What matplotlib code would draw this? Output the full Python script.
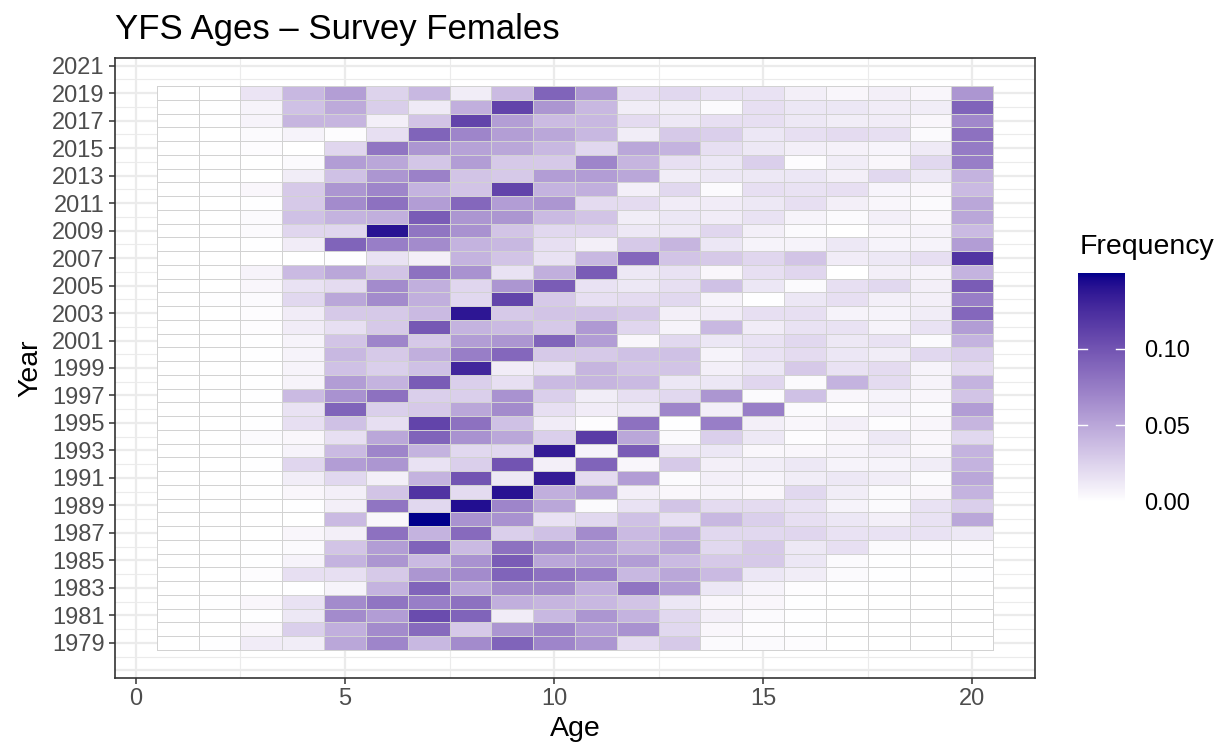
import numpy as np
import matplotlib
matplotlib.use("Agg")
import matplotlib.pyplot as plt
from matplotlib.colors import ListedColormap, Normalize
from matplotlib.ticker import FixedLocator

plt.rcParams["font.family"] = ["Liberation Sans", "DejaVu Sans"]

# Age classes and survey years
ages = list(range(1, 21))
years = list(range(1979, 2020))

# Proportion at age by year (rows ordered 1979 -> 2019, columns ages 1..20)
freq = [
    [0, 0.001, 0.011, 0.010, 0.050, 0.070, 0.040, 0.066, 0.090, 0.070, 0.060, 0.020, 0.030, 0.003, 0.003, 0.002, 0, 0, 0, 0],          # 1979
    [0, 0, 0.005, 0.027, 0.045, 0.066, 0.086, 0.030, 0.060, 0.070, 0.056, 0.062, 0.022, 0.005, 0.002, 0.001, 0, 0, 0, 0],              # 1980
    [0, 0, 0.001, 0.013, 0.066, 0.056, 0.105, 0.090, 0.011, 0.040, 0.060, 0.043, 0.022, 0.009, 0.003, 0.001, 0, 0, 0, 0],              # 1981
    [0, 0.001, 0.005, 0.016, 0.066, 0.080, 0.074, 0.082, 0.045, 0.042, 0.040, 0.033, 0.014, 0.005, 0.005, 0.001, 0, 0, 0, 0],          # 1982
    [0, 0, 0, 0.001, 0.007, 0.043, 0.090, 0.050, 0.066, 0.066, 0.045, 0.080, 0.056, 0.014, 0.007, 0.002, 0.001, 0.001, 0, 0],          # 1983
    [0, 0, 0.002, 0.018, 0.018, 0.030, 0.060, 0.066, 0.090, 0.082, 0.074, 0.040, 0.050, 0.039, 0.014, 0.010, 0.003, 0.001, 0, 0.001],  # 1984
    [0, 0, 0.001, 0.007, 0.043, 0.060, 0.039, 0.062, 0.095, 0.050, 0.056, 0.056, 0.039, 0.030, 0.030, 0.014, 0.003, 0.001, 0, 0.001],  # 1985
    [0, 0, 0.001, 0.003, 0.033, 0.056, 0.090, 0.039, 0.082, 0.066, 0.056, 0.042, 0.050, 0.022, 0.030, 0.013, 0.018, 0.003, 0.002, 0.002],  # 1986
    [0, 0, 0, 0.005, 0.009, 0.082, 0.043, 0.086, 0.027, 0.035, 0.066, 0.039, 0.045, 0.022, 0.022, 0.023, 0.016, 0.016, 0.016, 0.013],  # 1987
    [0, 0, 0, 0, 0.039, 0.005, 0.1495, 0.062, 0.062, 0.016, 0.022, 0.035, 0.018, 0.040, 0.027, 0.018, 0.014, 0.009, 0.016, 0.050],     # 1988
    [0, 0, 0, 0.001, 0.009, 0.080, 0.022, 0.142, 0.070, 0.050, 0.003, 0.016, 0.033, 0.020, 0.020, 0.016, 0.007, 0.003, 0.016, 0.027],  # 1989
    [0, 0, 0.001, 0.005, 0.009, 0.033, 0.120, 0.020, 0.140, 0.045, 0.056, 0.009, 0.005, 0.007, 0.005, 0.022, 0.010, 0.003, 0.005, 0.043],  # 1990
    [0, 0, 0.001, 0.010, 0.022, 0.009, 0.043, 0.100, 0.013, 0.135, 0.020, 0.056, 0.003, 0.009, 0.007, 0.010, 0.013, 0.010, 0.003, 0.050],  # 1991
    [0, 0, 0.001, 0.023, 0.056, 0.060, 0.016, 0.027, 0.100, 0.009, 0.090, 0.005, 0.030, 0.009, 0.010, 0.013, 0.007, 0.007, 0.010, 0.043],  # 1992
    [0, 0, 0.001, 0.007, 0.039, 0.070, 0.043, 0.022, 0.022, 0.135, 0.007, 0.095, 0.013, 0.014, 0.005, 0.005, 0.007, 0.009, 0.005, 0.043],  # 1993
    [0, 0, 0.003, 0.005, 0.018, 0.050, 0.090, 0.062, 0.050, 0.027, 0.115, 0.050, 0.003, 0.027, 0.013, 0.002, 0.005, 0.013, 0.005, 0.022],  # 1994
    [0, 0, 0.001, 0.018, 0.035, 0.018, 0.110, 0.082, 0.035, 0.011, 0.002, 0.082, 0.001, 0.074, 0.009, 0.005, 0.009, 0.002, 0.005, 0.042],  # 1995
    [0, 0, 0.001, 0.016, 0.090, 0.027, 0.030, 0.050, 0.066, 0.018, 0.011, 0.013, 0.070, 0.009, 0.074, 0.003, 0.002, 0.007, 0.003, 0.056],  # 1996
    [0, 0, 0.001, 0.039, 0.062, 0.082, 0.027, 0.027, 0.062, 0.027, 0.010, 0.018, 0.022, 0.060, 0.003, 0.035, 0.005, 0.007, 0.005, 0.033],  # 1997
    [0, 0, 0.001, 0.007, 0.056, 0.043, 0.095, 0.027, 0.018, 0.039, 0.042, 0.039, 0.014, 0.014, 0.023, 0.003, 0.043, 0.020, 0.007, 0.043],  # 1998
    [0, 0, 0.001, 0.007, 0.035, 0.027, 0.035, 0.128, 0.011, 0.016, 0.042, 0.033, 0.033, 0.009, 0.014, 0.030, 0.016, 0.020, 0.007, 0.020],  # 1999
    [0, 0, 0.001, 0.007, 0.040, 0.030, 0.045, 0.074, 0.088, 0.030, 0.030, 0.035, 0.035, 0.007, 0.016, 0.020, 0.014, 0.010, 0.022, 0.027],  # 2000
    [0, 0, 0.001, 0.007, 0.033, 0.070, 0.030, 0.056, 0.060, 0.090, 0.056, 0.005, 0.022, 0.014, 0.016, 0.022, 0.013, 0.016, 0.003, 0.043],  # 2001
    [0, 0, 0.002, 0.011, 0.018, 0.030, 0.097, 0.043, 0.039, 0.030, 0.058, 0.023, 0.007, 0.040, 0.011, 0.016, 0.016, 0.007, 0.016, 0.056],  # 2002
    [0, 0, 0.002, 0.011, 0.030, 0.030, 0.039, 0.138, 0.030, 0.033, 0.033, 0.030, 0.009, 0.011, 0.018, 0.018, 0.007, 0.007, 0.010, 0.088],  # 2003
    [0, 0.001, 0.003, 0.022, 0.050, 0.066, 0.045, 0.022, 0.110, 0.030, 0.018, 0.020, 0.022, 0.007, 0.001, 0.014, 0.018, 0.009, 0.009, 0.074],  # 2004
    [0, 0, 0.005, 0.016, 0.020, 0.066, 0.045, 0.023, 0.060, 0.095, 0.016, 0.013, 0.018, 0.035, 0.014, 0.003, 0.018, 0.022, 0.009, 0.095],  # 2005
    [0, 0, 0.007, 0.039, 0.050, 0.033, 0.082, 0.062, 0.016, 0.045, 0.095, 0.013, 0.016, 0.005, 0.018, 0.023, 0, 0.009, 0.007, 0.043],     # 2006
    [0, 0, 0, 0, 0.001, 0.016, 0.009, 0.043, 0.033, 0.016, 0.040, 0.088, 0.033, 0.030, 0.023, 0.033, 0.011, 0.013, 0.018, 0.120],         # 2007
    [0, 0, 0.001, 0.011, 0.090, 0.074, 0.066, 0.043, 0.040, 0.018, 0.009, 0.030, 0.042, 0.014, 0.007, 0.007, 0.013, 0.007, 0.007, 0.056],  # 2008
    [0, 0, 0.003, 0.023, 0.023, 0.140, 0.080, 0.062, 0.033, 0.022, 0.023, 0.013, 0.013, 0.023, 0.009, 0.003, 0, 0.005, 0.007, 0.039],     # 2009
    [0, 0, 0.003, 0.035, 0.043, 0.045, 0.095, 0.060, 0.060, 0.039, 0.033, 0.010, 0.014, 0.011, 0.016, 0.007, 0.003, 0.009, 0.005, 0.050],  # 2010
    [0, 0, 0.001, 0.030, 0.066, 0.082, 0.056, 0.088, 0.056, 0.060, 0.020, 0.020, 0.011, 0.011, 0.013, 0.018, 0.009, 0.005, 0.003, 0.050],  # 2011
    [0, 0.001, 0.005, 0.030, 0.060, 0.070, 0.043, 0.033, 0.110, 0.043, 0.045, 0.009, 0.022, 0.003, 0.018, 0.016, 0.018, 0.006, 0.005, 0.039],  # 2012
    [0, 0, 0, 0.010, 0.035, 0.060, 0.072, 0.033, 0.030, 0.056, 0.056, 0.050, 0.010, 0.013, 0.013, 0.014, 0.009, 0.022, 0.013, 0.043],     # 2013
    [0, 0, 0, 0.003, 0.056, 0.050, 0.032, 0.056, 0.030, 0.030, 0.070, 0.042, 0.018, 0.014, 0.027, 0.002, 0.010, 0.005, 0.022, 0.074],     # 2014
    [0, 0, 0.002, 0, 0.023, 0.080, 0.060, 0.053, 0.050, 0.040, 0.022, 0.050, 0.043, 0.018, 0.013, 0.009, 0.008, 0.006, 0.012, 0.076],     # 2015
    [0, 0, 0.003, 0.007, 0.002, 0.018, 0.090, 0.070, 0.055, 0.050, 0.040, 0.010, 0.030, 0.027, 0.014, 0.018, 0.020, 0.018, 0.003, 0.082],  # 2016
    [0, 0.001, 0.007, 0.042, 0.042, 0.009, 0.033, 0.110, 0.055, 0.038, 0.040, 0.020, 0.013, 0.018, 0.018, 0.013, 0.010, 0.011, 0.005, 0.068],  # 2017
    [0, 0.001, 0.007, 0.035, 0.048, 0.028, 0.012, 0.045, 0.110, 0.060, 0.040, 0.010, 0.010, 0.003, 0.018, 0.014, 0.014, 0.011, 0.010, 0.090],  # 2018
    [0, 0, 0.015, 0.040, 0.055, 0.025, 0.040, 0.010, 0.038, 0.090, 0.060, 0.018, 0.022, 0.016, 0.016, 0.009, 0.005, 0.009, 0.005, 0.060],  # 2019
]

x_ticks = [0, 5, 10, 15, 20]
y_ticks = list(range(1979, 2022, 2))


# White -> darkblue gradient interpolated in CIELAB space
def _srgb_to_lab(rgb):
    c = np.asarray(rgb, dtype=float)
    lin = np.where(c <= 0.04045, c / 12.92, ((c + 0.055) / 1.055) ** 2.4)
    m = np.array([[0.4124, 0.3576, 0.1805],
                  [0.2126, 0.7152, 0.0722],
                  [0.0193, 0.1192, 0.9505]])
    xyz = m @ lin / np.array([0.95047, 1.0, 1.08883])
    d = 6 / 29
    f = np.where(xyz > d ** 3, np.cbrt(xyz), xyz / (3 * d * d) + 4 / 29)
    return np.array([116 * f[1] - 16, 500 * (f[0] - f[1]), 200 * (f[1] - f[2])])


def _lab_to_srgb(lab):
    L, a, b = lab
    fy = (L + 16) / 116
    fx = fy + a / 500
    fz = fy - b / 200
    d = 6 / 29
    f = np.array([fx, fy, fz])
    xyz = np.where(f > d, f ** 3, 3 * d * d * (f - 4 / 29)) * np.array([0.95047, 1.0, 1.08883])
    minv = np.array([[3.2406, -1.5372, -0.4986],
                     [-0.9689, 1.8758, 0.0415],
                     [0.0557, -0.2040, 1.0570]])
    lin = np.clip(minv @ xyz, 0, 1)
    c = np.where(lin <= 0.0031308, 12.92 * lin, 1.055 * lin ** (1 / 2.4) - 0.055)
    return np.clip(c, 0, 1)


lab_lo = _srgb_to_lab([1.0, 1.0, 1.0])
lab_hi = _srgb_to_lab([0.0, 0.0, 139 / 255])
cmap = ListedColormap([_lab_to_srgb(lab_lo + t * (lab_hi - lab_lo)) for t in np.linspace(0, 1, 256)])

Z = np.array(freq)
norm = Normalize(vmin=Z.min(), vmax=Z.max())

fig = plt.figure(figsize=(12.26, 7.53), dpi=100)
ax = fig.add_axes([115 / 1226, 75 / 753, 920 / 1226, 620 / 753])

# Grid (drawn beneath tiles)
grid_major = "#EBEBEB"
ax.set_xlim(-0.5, 21.5)
ax.set_ylim(1976.45, 2021.55)
for xv in x_ticks:
    ax.axvline(xv, color=grid_major, lw=1.6, zorder=0)
for xv in [2.5, 7.5, 12.5, 17.5]:
    ax.axvline(xv, color=grid_major, lw=0.8, zorder=0)
for yv in list(range(1977, 2022, 2)):
    ax.axhline(yv, color=grid_major, lw=1.6, zorder=0)
for yv in list(range(1978, 2022, 2)):
    ax.axhline(yv, color=grid_major, lw=0.8, zorder=0)

x_edges = np.arange(ages[0] - 0.5, ages[-1] + 1.0, 1.0)
y_edges = np.arange(years[0] - 0.5, years[-1] + 1.0, 1.0)
mesh = ax.pcolormesh(x_edges, y_edges, Z, cmap=cmap, norm=norm,
                     edgecolors="#D2D2D2", linewidth=0.6, zorder=2)

ax.xaxis.set_major_locator(FixedLocator(x_ticks))
ax.yaxis.set_major_locator(FixedLocator(y_ticks))
ax.tick_params(axis="both", which="major", length=4.5, width=1.1, color="#333333",
               labelsize=17, labelcolor="#4D4D4D", pad=3)
for s in ax.spines.values():
    s.set_color("#333333")
    s.set_linewidth(1.2)
    s.set_zorder(5)

ax.set_xlabel("Age", fontsize=20.5, color="black", labelpad=4)
ax.set_ylabel("Year", fontsize=20.5, color="black", labelpad=6)
ax.set_title("YFS Ages \u2013 Survey Females", fontsize=25, loc="left", pad=14, color="black")

# Colour bar legend
cax = fig.add_axes([1078 / 1226, 251 / 753, 47 / 1226, 229 / 753])
cb = fig.colorbar(mesh, cax=cax)
cb.outline.set_visible(False)
cb.set_ticks([0.0, 0.05, 0.10])
cb.set_ticklabels(["0.00", "0.05", "0.10"])
cax.tick_params(length=0, labelsize=17, labelcolor="black", pad=14)
for t in [0.05, 0.10]:
    cax.plot([0, 0.2], [t, t], color="white", lw=1.0, transform=cax.get_yaxis_transform())
    cax.plot([0.8, 1.0], [t, t], color="white", lw=1.0, transform=cax.get_yaxis_transform())
fig.text(1080 / 1226, 1 - 247 / 753, "Frequency", fontsize=20.5, ha="left", va="center")

fig.savefig("out.png", dpi=100)
